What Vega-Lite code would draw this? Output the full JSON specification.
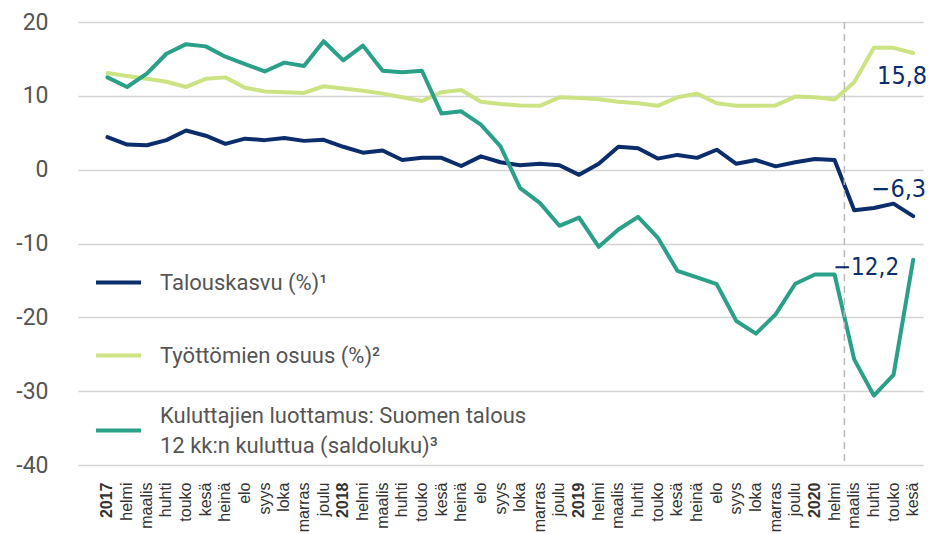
{
  "$schema": "https://vega.github.io/schema/vega-lite/v6.json",
  "width": 845,
  "height": 443,
  "autosize": {"type": "none"},
  "padding": {"left": 78, "top": 22, "right": 7, "bottom": 69},
  "background": "white",
  "config": {
    "view": {"stroke": null},
    "font": "Roboto",
    "axisX": {
      "domain": false,
      "ticks": false,
      "grid": false,
      "labelAngle": -90,
      "labelAlign": "right",
      "labelBaseline": "middle",
      "labelFont": "Liberation Sans",
      "labelFontSize": 16,
      "labelColor": "#333333",
      "labelPadding": 17,
      "labelOverlap": false,
      "labelLimit": 200
    }
  },
  "datasets": {
    "kuukaudet": [
      {"kk": "2017-01", "Talouskasvu": 4.4, "Työttömien": 13.1, "Kuluttajien": 12.5},
      {"kk": "2017-02", "Talouskasvu": 3.4, "Työttömien": 12.7, "Kuluttajien": 11.2},
      {"kk": "2017-03", "Talouskasvu": 3.3, "Työttömien": 12.3, "Kuluttajien": 13.0},
      {"kk": "2017-04", "Talouskasvu": 4.0, "Työttömien": 11.9, "Kuluttajien": 15.7},
      {"kk": "2017-05", "Talouskasvu": 5.3, "Työttömien": 11.2, "Kuluttajien": 17.0},
      {"kk": "2017-06", "Talouskasvu": 4.6, "Työttömien": 12.3, "Kuluttajien": 16.7},
      {"kk": "2017-07", "Talouskasvu": 3.5, "Työttömien": 12.5, "Kuluttajien": 15.3},
      {"kk": "2017-08", "Talouskasvu": 4.2, "Työttömien": 11.1, "Kuluttajien": 14.3},
      {"kk": "2017-09", "Talouskasvu": 4.0, "Työttömien": 10.6, "Kuluttajien": 13.3},
      {"kk": "2017-10", "Talouskasvu": 4.3, "Työttömien": 10.5, "Kuluttajien": 14.5},
      {"kk": "2017-11", "Talouskasvu": 3.9, "Työttömien": 10.4, "Kuluttajien": 14.05},
      {"kk": "2017-12", "Talouskasvu": 4.05, "Työttömien": 11.3, "Kuluttajien": 17.4},
      {"kk": "2018-01", "Talouskasvu": 3.1, "Työttömien": 11.0, "Kuluttajien": 14.8},
      {"kk": "2018-02", "Talouskasvu": 2.3, "Työttömien": 10.7, "Kuluttajien": 16.8},
      {"kk": "2018-03", "Talouskasvu": 2.6, "Työttömien": 10.3, "Kuluttajien": 13.4},
      {"kk": "2018-04", "Talouskasvu": 1.3, "Työttömien": 9.8, "Kuluttajien": 13.2},
      {"kk": "2018-05", "Talouskasvu": 1.6, "Työttömien": 9.3, "Kuluttajien": 13.4},
      {"kk": "2018-06", "Talouskasvu": 1.6, "Työttömien": 10.5, "Kuluttajien": 7.6},
      {"kk": "2018-07", "Talouskasvu": 0.5, "Työttömien": 10.8, "Kuluttajien": 7.9},
      {"kk": "2018-08", "Talouskasvu": 1.8, "Työttömien": 9.2, "Kuluttajien": 6.1},
      {"kk": "2018-09", "Talouskasvu": 1.0, "Työttömien": 8.9, "Kuluttajien": 3.15},
      {"kk": "2018-10", "Talouskasvu": 0.6, "Työttömien": 8.7, "Kuluttajien": -2.5},
      {"kk": "2018-11", "Talouskasvu": 0.8, "Työttömien": 8.65, "Kuluttajien": -4.5},
      {"kk": "2018-12", "Talouskasvu": 0.6, "Työttömien": 9.8, "Kuluttajien": -7.6},
      {"kk": "2019-01", "Talouskasvu": -0.7, "Työttömien": 9.7, "Kuluttajien": -6.5},
      {"kk": "2019-02", "Talouskasvu": 0.8, "Työttömien": 9.55, "Kuluttajien": -10.45},
      {"kk": "2019-03", "Talouskasvu": 3.1, "Työttömien": 9.2, "Kuluttajien": -8.1},
      {"kk": "2019-04", "Talouskasvu": 2.9, "Työttömien": 9.0, "Kuluttajien": -6.4},
      {"kk": "2019-05", "Talouskasvu": 1.5, "Työttömien": 8.65, "Kuluttajien": -9.2},
      {"kk": "2019-06", "Talouskasvu": 2.0, "Työttömien": 9.8, "Kuluttajien": -13.7},
      {"kk": "2019-07", "Talouskasvu": 1.6, "Työttömien": 10.3, "Kuluttajien": -14.6},
      {"kk": "2019-08", "Talouskasvu": 2.7, "Työttömien": 9.0, "Kuluttajien": -15.5},
      {"kk": "2019-09", "Talouskasvu": 0.8, "Työttömien": 8.65, "Kuluttajien": -20.5},
      {"kk": "2019-10", "Talouskasvu": 1.3, "Työttömien": 8.65, "Kuluttajien": -22.2},
      {"kk": "2019-11", "Talouskasvu": 0.45, "Työttömien": 8.7, "Kuluttajien": -19.6},
      {"kk": "2019-12", "Talouskasvu": 1.0, "Työttömien": 9.9, "Kuluttajien": -15.45},
      {"kk": "2020-01", "Talouskasvu": 1.45, "Työttömien": 9.8, "Kuluttajien": -14.2},
      {"kk": "2020-02", "Talouskasvu": 1.3, "Työttömien": 9.5, "Kuluttajien": -14.2},
      {"kk": "2020-03", "Talouskasvu": -5.5, "Työttömien": 11.85, "Kuluttajien": -25.7},
      {"kk": "2020-04", "Talouskasvu": -5.2, "Työttömien": 16.5, "Kuluttajien": -30.6},
      {"kk": "2020-05", "Talouskasvu": -4.6, "Työttömien": 16.5, "Kuluttajien": -27.8},
      {"kk": "2020-06", "Talouskasvu": -6.3, "Työttömien": 15.8, "Kuluttajien": -12.2}
    ],
    "loppuarvot": [
      {"kk": "2020-06", "sarja": "Työttömien", "arvo": 15.8, "teksti": "15,8"},
      {"kk": "2020-06", "sarja": "Talouskasvu", "arvo": -6.3, "teksti": "−6,3"},
      {"kk": "2020-06", "sarja": "Kuluttajien", "arvo": -12.2, "teksti": "−12,2"}
    ]
  },
  "encoding": {
    "x": {
      "field": "kk",
      "type": "ordinal",
      "bandPosition": 0.5,
      "scale": {"type": "band", "paddingInner": 0, "paddingOuter": 0},
      "axis": {
        "title": null,
        "labelFontSize": 16,
        "labelFont": "Liberation Sans",
        "labelFontWeight": {"condition": {"test": "substring(datum.value, 5) == '01'", "value": "bold"}, "value": "normal"},
        "labelExpr": "substring(datum.value, 5) == '01' ? substring(datum.value, 0, 4) : ['', 'helmi', 'maalis', 'huhti', 'touko', 'kesä', 'heinä', 'elo', 'syys', 'loka', 'marras', 'joulu'][toNumber(substring(datum.value, 5)) - 1]"
      }
    }
  },
  "layer": [
    {
      "data": {"name": "kuukaudet"},
      "transform": [{"fold": ["Talouskasvu", "Työttömien", "Kuluttajien"], "as": ["sarja", "arvo"]}],
      "mark": {"type": "line", "strokeWidth": 4, "strokeCap": "round", "strokeJoin": "round"},
      "encoding": {
        "y": {
          "field": "arvo",
          "type": "quantitative",
          "scale": {"domain": [-40, 20], "nice": false, "zero": false},
          "axis": {
            "title": null,
            "domain": false,
            "ticks": false,
            "grid": true,
            "gridColor": "#d4d4d4",
            "gridWidth": 1.5,
            "values": [-40, -30, -20, -10, 0, 10, 20],
            "labelFont": "Roboto",
            "labelFontSize": 23,
            "labelColor": "#555555",
            "labelPadding": 30,
            "labelExpr": "replace(datum.label, '−', '-')"
          }
        },
        "color": {
          "field": "sarja",
          "type": "nominal",
          "scale": {
            "domain": ["Talouskasvu", "Työttömien", "Kuluttajien"],
            "range": ["#0c2d6b", "#cce384", "#2aa089"]
          },
          "legend": {
            "title": null,
            "orient": "none",
            "legendX": 16,
            "legendY": 236,
            "padding": 0,
            "symbolType": "stroke",
            "symbolStrokeWidth": 4,
            "symbolSize": 2025,
            "labelFont": "Roboto",
            "labelFontSize": 22,
            "labelColor": "#555555",
            "labelOffset": 17,
            "labelLimit": 700,
            "rowPadding": 37,
            "labelExpr": "datum.label == 'Talouskasvu' ? 'Talouskasvu (%)¹' : datum.label == 'Työttömien' ? 'Työttömien osuus (%)²' : ['Kuluttajien luottamus: Suomen talous', '12 kk:n kuluttua (saldoluku)³']",
            "encode": {"labels": {"update": {"lineHeight": {"value": 30}, "dy": {"signal": "datum.value == 'Kuluttajien' ? -15 : 0"}}}}
          }
        },
        "order": {"field": "kk"}
      }
    },
    {
      "data": {"values": [{}]},
      "mark": {"type": "rule", "color": "#000000", "strokeWidth": 1.5},
      "encoding": {"y": {"datum": 0, "type": "quantitative"}}
    },
    {
      "data": {"values": [{}]},
      "mark": {"type": "rule", "color": "#bbbbbb", "strokeWidth": 1.5, "strokeDash": [7, 5]},
      "encoding": {
        "x": {
          "datum": "2020-03",
          "type": "ordinal",
          "bandPosition": 0,
          "axis": {
            "title": null,
            "labelFontSize": 16,
            "labelFont": "Liberation Sans",
            "labelFontWeight": {"condition": {"test": "substring(datum.value, 5) == '01'", "value": "bold"}, "value": "normal"},
            "labelExpr": "substring(datum.value, 5) == '01' ? substring(datum.value, 0, 4) : ['', 'helmi', 'maalis', 'huhti', 'touko', 'kesä', 'heinä', 'elo', 'syys', 'loka', 'marras', 'joulu'][toNumber(substring(datum.value, 5)) - 1]"
          }
        }
      }
    },
    {
      "data": {"name": "loppuarvot"},
      "transform": [{"filter": "datum.sarja == 'Työttömien'"}],
      "mark": {"type": "text", "align": "right", "baseline": "middle", "dx": 14, "dy": 23, "font": "DejaVu Sans Condensed", "fontSize": 25, "color": "#0c2d6b"},
      "encoding": {"y": {"field": "arvo", "type": "quantitative"}, "text": {"field": "teksti"}}
    },
    {
      "data": {"name": "loppuarvot"},
      "transform": [{"filter": "datum.sarja == 'Talouskasvu'"}],
      "mark": {"type": "text", "align": "right", "baseline": "middle", "dx": 13, "dy": -27, "font": "DejaVu Sans Condensed", "fontSize": 25, "color": "#0c2d6b"},
      "encoding": {"y": {"field": "arvo", "type": "quantitative"}, "text": {"field": "teksti"}}
    },
    {
      "data": {"name": "loppuarvot"},
      "transform": [{"filter": "datum.sarja == 'Kuluttajien'"}],
      "mark": {"type": "text", "align": "right", "baseline": "middle", "dx": -14, "dy": 8, "font": "DejaVu Sans Condensed", "fontSize": 24, "color": "#0c2d6b"},
      "encoding": {"y": {"field": "arvo", "type": "quantitative"}, "text": {"field": "teksti"}}
    }
  ]
}
